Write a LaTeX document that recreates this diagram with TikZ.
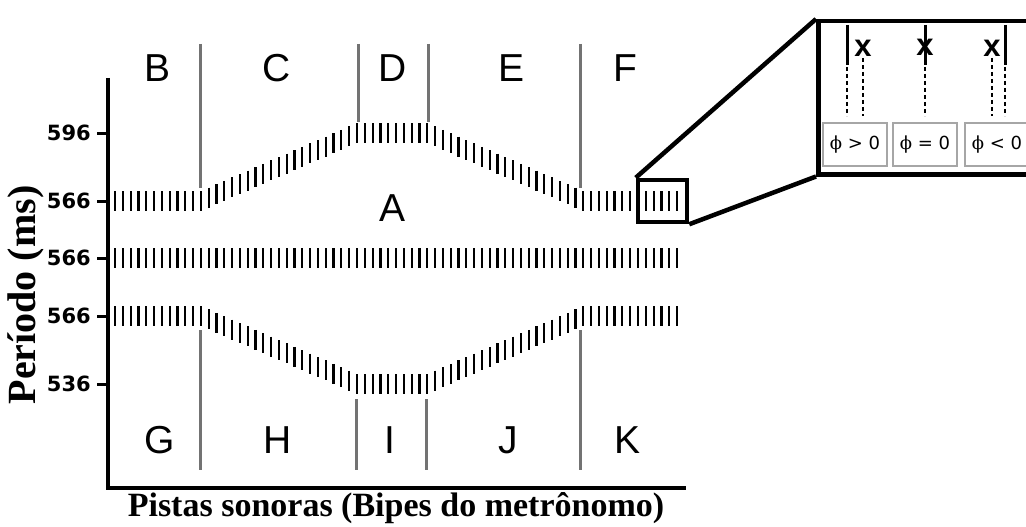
\documentclass[tikz,border=0pt]{standalone}
\usepackage{fontspec}
\setmainfont{Liberation Serif}
\newfontfamily\arial{Liberation Sans}
\newfontfamily\dejavu{DejaVu Sans}
\newfontfamily\dejavuserif{DejaVu Serif}
\begin{document}
\begin{tikzpicture}[x=1pt,y=-1pt,
  beat/.style={line width=2.2pt,black},
  sep/.style={line width=3pt,draw=black!55},
  letter/.style={font=\arial\fontsize{39}{39}\selectfont,inner sep=0pt},
  ticklbl/.style={font=\dejavu\bfseries\fontsize{21}{21}\selectfont,anchor=east,inner sep=0pt},
  axisline/.style={line width=3.5pt},
  lens/.style={draw,line width=4.5pt,inner sep=0pt},
  phibox/.style={draw=black!35,line width=1.5pt,minimum width=64pt,minimum height=43pt,inner sep=0pt,font=\dejavu\fontsize{18}{18}\selectfont},
  xmk/.style={font=\arial\bfseries\fontsize{31}{31}\selectfont,inner sep=0pt},
  solidmk/.style={line width=3pt},
  dashmk/.style={dash pattern=on 4pt off 3pt,line width=1.8pt}
]
\clip (0,0) rectangle (1026,527);
\fill[white] (0,0) rectangle (1026,527);

% axes
\coordinate (ytop) at (108,78);
\coordinate (orig) at (108,488);
\coordinate (xend) at (686,488);
\draw[axisline] (ytop) -- (orig) -- (xend);

% y ticks
\foreach \yy/\lab in {133/596,201/566,258/566,316/566,384/536}{
  \draw[line width=3pt] (97,\yy) -- (108,\yy);
  \node[ticklbl] at (91,\yy) {\lab};
}

% beats
\foreach \k in {0,...,72}{
  \pgfmathsetmacro\xx{115+7.806*\k}
  \pgfmathsetmacro\d{\k<=11 ? 0 : (\k<31 ? (\k-11)/20 : (\k<=40 ? 1 : (\k<60 ? (60-\k)/20 : 0)))}
  \draw[beat] (\xx,201-68*\d-10) -- ++(0,20);
  \draw[beat] (\xx,248) -- ++(0,20);
  \draw[beat] (\xx,316+68*\d-10) -- ++(0,20);
}

% separators
\draw[sep] (200,44) -- (200,188);
\draw[sep] (358,44) -- (358,122);
\draw[sep] (428,44) -- (428,122);
\draw[sep] (580,44) -- (580,188);
\draw[sep] (200,330) -- (200,470);
\draw[sep] (356,399) -- (356,470);
\draw[sep] (426,399) -- (426,470);
\draw[sep] (580,330) -- (580,470);

% letters
\node[letter] (B) at (158,68) {B};
\node[letter] (C) at (277,68) {C};
\node[letter] (D) at (393,68) {D};
\node[letter] (E) at (512,68) {E};
\node[letter] (F) at (625,68) {F};
\node[letter] (A) at (393,208) {A};
\node[letter] (G) at (160,440) {G};
\node[letter] (H) at (278,440) {H};
\node[letter] (I) at (390,440) {I};
\node[letter] (J) at (508,440) {J};
\node[letter] (K) at (627,440) {K};

% axis titles
\node[rotate=90,font=\bfseries\fontsize{40}{40}\selectfont] (ylab) at (26,295) {Período (ms)};
\node[font=\bfseries\fontsize{34}{34}\selectfont] (xlab) at (396,508) {Pistas sonoras (Bipes do metrônomo)};

% magnifier
\node[lens,minimum width=49pt,minimum height=42pt] (small) at (662.5,201) {};
\node[lens,minimum width=240pt,minimum height=153pt,anchor=north west] (big) at (816,19) {};
\draw[line width=4.5pt] (small.north west) -- (big.north west);
\draw[line width=4.5pt] (small.south east) -- (big.south west);

% phase boxes
\node[phibox] (p1) at (855,144.5) {{\dejavuserif ϕ} > 0};
\node[phibox] (p2) at (925,144.5) {{\dejavuserif ϕ} = 0};
\node[phibox] (p3) at (997,144.5) {{\dejavuserif ϕ} < 0};

% phase marks
\node[xmk] (x1) at (863,48) {x};
\node[xmk] (x2) at (925,47) {x};
\node[xmk] (x3) at (992,48) {x};
\draw[solidmk] (847,25) -- (847,65);
\draw[solidmk] (925,25) -- (925,65);
\draw[solidmk] (1005,25) -- (1005,65);
\draw[dashmk] (847,67) -- (847,116);
\draw[dashmk] (863,58) -- (863,116);
\draw[dashmk] (925,67) -- (925,116);
\draw[dashmk] (992,58) -- (992,116);
\draw[dashmk] (1005,67) -- (1005,116);
\end{tikzpicture}
\end{document}
